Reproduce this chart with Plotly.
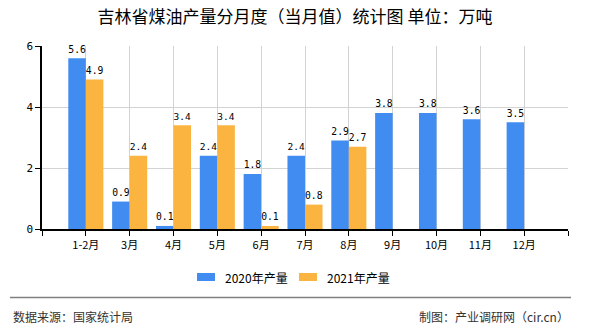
import plotly.graph_objects as go

categories = ["1-2月", "3月", "4月", "5月", "6月", "7月", "8月", "9月", "10月", "11月", "12月"]
values_2020 = [5.6, 0.9, 0.1, 2.4, 1.8, 2.4, 2.9, 3.8, 3.8, 3.6, 3.5]
values_2021 = [4.9, 2.4, 3.4, 3.4, 0.1, 0.8, 2.7]
series_names = ["2020年产量", "2021年产量"]
y_ticks = [0, 2, 4, 6]

BLUE = "#418CF0"
ORANGE = "#FCB441"
CJK = "Noto Sans CJK SC"
MONO = "DejaVu Sans Mono"

idx = list(range(len(categories)))

fig = go.Figure()
fig.add_trace(go.Bar(
    x=idx, y=values_2020, name=series_names[0], marker_color=BLUE,
    marker_line_width=0,
    text=[f"{v:.1f}" for v in values_2020], textposition="outside",
    textfont=dict(family=MONO, size=11, color="#000000"), cliponaxis=False,
))
fig.add_trace(go.Bar(
    x=idx[:len(values_2021)], y=values_2021, name=series_names[1], marker_color=ORANGE,
    marker_line_width=0,
    text=[f"{v:.1f}" for v in values_2021], textposition="outside",
    textfont=dict(family=MONO, size=11, color="#000000"), cliponaxis=False,
))

W, H = 590, 330
L, R, T, B = 42, 22, 46, 101
pw, ph = W - L - R, H - T - B


def px(x):
    return (x - L) / pw


def py(y):
    return (H - B - y) / ph


fig.update_layout(
    width=W, height=H,
    margin=dict(l=L, r=R, t=T, b=B),
    paper_bgcolor="white", plot_bgcolor="white",
    barmode="group", bargap=0.2, bargroupgap=0,
    showlegend=False,
    title=dict(text="吉林省煤油产量分月度（当月值）统计图 单位：万吨",
               x=0.5, xanchor="center", y=1 - 17 / H, yanchor="middle",
               font=dict(family=CJK, size=17, color="#000000")),
    xaxis=dict(
        range=[-1, len(categories)],
        tickmode="array",
        tickvals=list(range(-1, len(categories) + 1)),
        ticktext=[""] + categories + [""],
        showgrid=True, gridcolor="#D3D3D3", gridwidth=1,
        showline=True, linecolor="#000000", linewidth=1.5,
        ticks="outside", ticklen=5, tickcolor="#000000",
        tickfont=dict(family=CJK, size=11, color="#000000"),
        zeroline=False, fixedrange=True,
    ),
    yaxis=dict(
        range=[0, 6],
        tickmode="array", tickvals=y_ticks,
        showgrid=True, gridcolor="#D3D3D3", gridwidth=1,
        showline=True, linecolor="#000000", linewidth=1.5,
        ticks="outside", ticklen=5, tickcolor="#000000",
        tickfont=dict(family=MONO, size=11, color="#000000"),
        zeroline=False, fixedrange=True,
    ),
)

# Manual legend
legend_items = [(197, 215, 223, BLUE, series_names[0]), (299, 317, 325, ORANGE, series_names[1])]
for x0, x1, tx, col, name in legend_items:
    fig.add_shape(type="rect", xref="paper", yref="paper",
                  x0=px(x0), x1=px(x1), y0=py(281), y1=py(273),
                  fillcolor=col, line_width=0)
    fig.add_annotation(xref="paper", yref="paper", x=px(tx), y=py(277),
                       xanchor="left", yanchor="middle", showarrow=False,
                       text=name, font=dict(family=CJK, size=12, color="#000000"))

# Footer
fig.add_shape(type="line", xref="paper", yref="paper",
              x0=px(10), x1=px(571), y0=py(297.5), y1=py(297.5),
              line=dict(color="#808080", width=1.5))
fig.add_annotation(xref="paper", yref="paper", x=px(11), y=py(316),
                   xanchor="left", yanchor="middle", showarrow=False,
                   text="数据来源：国家统计局", font=dict(family=CJK, size=12, color="#333333"))
fig.add_annotation(xref="paper", yref="paper", x=px(571), y=py(316),
                   xanchor="right", yanchor="middle", showarrow=False,
                   text="制图：产业调研网（cir.cn）", font=dict(family=CJK, size=12, color="#333333"))

fig.write_html("out.html", config={"displayModeBar": False})
